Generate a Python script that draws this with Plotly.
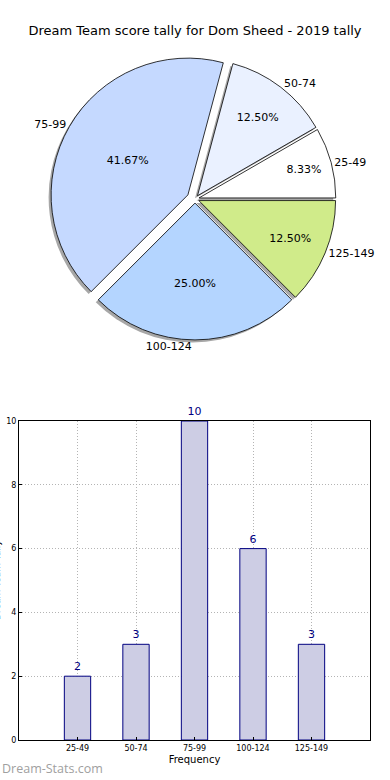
import plotly.graph_objects as go

# ---- data ----
categories = ["25-49", "50-74", "75-99", "100-124", "125-149"]
counts = [2, 3, 10, 6, 3]
pie_colors = ["#ffffff", "#eaf1ff", "#c5d9ff", "#b4d5ff", "#d0eb8a"]
pulls = [0.03, 0.03, 0.06, 0.03, 0.03]
y_ticks = [0, 2, 4, 6, 8, 10]

W, H = 390, 780

def px_x(x):
    return x / W

def px_y(y):
    return 1 - y / H

# pie geometry (pixels)
cx, cy, half = 195, 199, 145
pie_dom = dict(x=[px_x(cx - half), px_x(cx + half)], y=[px_y(cy + half), px_y(cy - half)])
sh = 2.5
shadow_dom = dict(x=[px_x(cx - half - sh), px_x(cx + half - sh)], y=[px_y(cy + half + sh), px_y(cy - half + sh)])

ROT = 60

fig = go.Figure()

# shadow
fig.add_trace(go.Pie(
    labels=categories, values=counts, sort=False, direction="counterclockwise",
    rotation=ROT, pull=pulls, domain=shadow_dom,
    marker=dict(colors=["#8a8a8a"] * 5, line=dict(width=0)),
    textinfo="none", hoverinfo="skip", showlegend=False, opacity=0.75,
    automargin=False,
))
# main pie with percents
fig.add_trace(go.Pie(
    labels=categories, values=counts, sort=False, direction="counterclockwise",
    rotation=ROT, pull=pulls, domain=pie_dom,
    marker=dict(colors=pie_colors, line=dict(color="#000000", width=0.8)),
    texttemplate="%{percent:.2%}", textposition="inside",
    insidetextorientation="horizontal",
    textfont=dict(family="DejaVu Sans", size=11, color="#000000"),
    showlegend=False, automargin=False,
))
# outside category labels
fig.add_trace(go.Pie(
    labels=categories, values=counts, sort=False, direction="counterclockwise",
    rotation=ROT, pull=pulls, domain=pie_dom,
    marker=dict(colors=["rgba(0,0,0,0)"] * 5, line=dict(width=0)),
    textinfo="label", textposition="outside",
    outsidetextfont=dict(family="DejaVu Sans", size=11, color="#000000"),
    hoverinfo="skip", showlegend=False, automargin=False,
))

# bar chart
fig.add_trace(go.Bar(
    x=categories, y=counts, width=0.45,
    marker=dict(color="#cdcde4", line=dict(color="#000080", width=1)),
    text=[str(c) for c in counts], textposition="outside",
    textfont=dict(family="DejaVu Sans", size=11, color="#000080"),
    cliponaxis=False, showlegend=False,
))

grid_style = dict(showgrid=True, gridcolor="#b4b4b4", griddash="1px,2px", gridwidth=1)

fig.update_layout(
    width=W, height=H, autosize=False,
    margin=dict(l=0, r=0, t=0, b=0, pad=0, autoexpand=False),
    paper_bgcolor="white", plot_bgcolor="white",
    font=dict(family="DejaVu Sans", color="#000000"),
    title=dict(text="Dream Team score tally for Dom Sheed - 2019 tally",
               x=0.5, xanchor="center", y=px_y(30), yanchor="middle",
               font=dict(family="DejaVu Sans", size=13, color="#000000")),
    xaxis=dict(domain=[px_x(19), px_x(370)], range=[-1, 5], automargin=False,
               showline=True, linecolor="#000000", linewidth=1, mirror=True,
               ticks="inside", ticklen=3, tickcolor="#000000",
               tickfont=dict(family="DejaVu Sans", size=8, color="#000000"),
               title=dict(text="Frequency", font=dict(family="DejaVu Sans", size=10), standoff=4),
               zeroline=False, fixedrange=True, **grid_style),
    yaxis=dict(domain=[px_y(740), px_y(421)], range=[0, 10], tickvals=y_ticks, automargin=False,
               showline=True, linecolor="#000000", linewidth=1, mirror=True,
               ticks="inside", ticklen=3, tickcolor="#000000",
               tickfont=dict(family="DejaVu Sans", size=8, color="#000000"),
               zeroline=False, fixedrange=True, **grid_style),
    bargap=0.5,
    annotations=[
        dict(text="Dream-Stats.com", x=0, y=0, xref="paper", yref="paper",
             xanchor="left", yanchor="bottom", showarrow=False, yshift=1,
             font=dict(family="Open Sans", size=12.5, color="#a0a0a0")),
        dict(text="Dream Team Tally", textangle=-90, x=px_x(-3), y=px_y(580),
             xref="paper", yref="paper", xanchor="center", yanchor="middle",
             showarrow=False, font=dict(family="DejaVu Sans", size=9, color="#000000")),
    ],
)

fig.write_html("out.html",
               config={"displayModeBar": False},
               post_script="document.body.style.margin='0';document.body.style.padding='0';"
                           "document.body.style.overflow='hidden';"
                           "document.documentElement.style.overflow='hidden';")
